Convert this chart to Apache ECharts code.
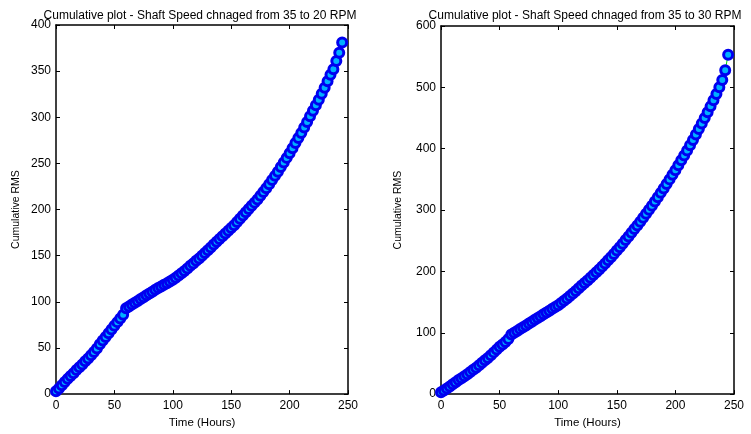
<!DOCTYPE html>
<html>
<head>
<meta charset="utf-8">
<script src="https://cdn.jsdelivr.net/npm/echarts@6/dist/echarts.min.js"></script>
<style>html,body{margin:0;padding:0;background:#fff;}#c{width:751px;height:434px;}</style>
</head>
<body>
<div id="c"></div>
<script>
// Time axis (hours) shared by both plots
const hours = [0,2.5,5,7.5,10,12.5,15,17.5,20,22.5,25,27.5,30,32.5,35,37.5,40,42.5,45,47.5,50,52.5,55,57.5,60,62.5,65,67.5,70,72.5,75,77.5,80,82.5,85,87.5,90,92.5,95,97.5,100,102.5,105,107.5,110,112.5,115,117.5,120,122.5,125,127.5,130,132.5,135,137.5,140,142.5,145,147.5,150,152.5,155,157.5,160,162.5,165,167.5,170,172.5,175,177.5,180,182.5,185,187.5,190,192.5,195,197.5,200,202.5,205,207.5,210,212.5,215,217.5,220,222.5,225,227.5,230,232.5,235,237.5,240,242.5,245];

// Left: 35 -> 20 RPM
const rms20 = [3,6,9.5,13,16.5,19.5,22.5,26,29,32,35.5,38.5,42,45.5,49.5,54,58,62,66,70,74,78,82,86,93,95,97,99,101,103,105,107,109,111,113,115,116.5,118.5,120,122,124,126,128.5,131,133.5,136,139,141.5,144.5,147,150,153,156,159,162,165,168,171,174,177,180,183,186.5,190,193.5,197,200.5,204,207.5,211,215,219,223,227.5,232,236.5,241,246,251,256,261,266.5,272,277.5,283,289,295,301,307,313,319,325.5,332,339,346,352,361,370,381];

// Right: 35 -> 30 RPM
const rms30 = [3,6,9,12.5,16,19.5,23,26,29,32.5,36,39.5,43,47,51,55,59,63.5,68,72.5,77,81,85,90,97,100,103,106,109,112,115,118,121,124,127,130,133,136,139,142,145,148.5,152,156,160,164,168,172.5,177,181,185,189.5,194,198.5,203,208,213,218,223,228.5,234,239.5,245,251,257,263,269,275,281,287.5,294,300.5,307,314,321,328,335,342.5,350,357.5,365,373,381,389,397,405.5,414,423,432,441,450,459.5,469,479,489,500,512,528,553];

const titles = ['Cumulative plot - Shaft Speed chnaged from 35 to 20 RPM','Cumulative plot - Shaft Speed chnaged from 35 to 30 RPM'];
const xTicks = {min:0,max:250,interval:50};
const yLeft = {min:0,max:400,interval:50};
const yRight = {min:0,max:600,interval:100};

const FONT = 'Liberation Sans, Arial, sans-serif';
const chart = echarts.init(document.getElementById('c'));

function mkX(grid, pos, labels){
  return {type:'value', gridIndex:grid, position:pos, min:xTicks.min, max:xTicks.max, interval:xTicks.interval,
    name: labels ? 'Time (Hours)' : '', nameLocation:'middle', nameGap:19,
    nameTextStyle:{color:'#000', fontSize:11.5, fontFamily:FONT},
    axisLine:{show:true, onZero:false, lineStyle:{color:'#000', width:1.5}},
    axisTick:{show:true, inside:true, length:4, lineStyle:{color:'#000'}},
    axisLabel:{show:labels, color:'#000', fontSize:12, fontFamily:FONT, margin:6},
    splitLine:{show:false}};
}
function mkY(grid, pos, labels, sc, gap){
  return {type:'value', gridIndex:grid, position:pos, min:sc.min, max:sc.max, interval:sc.interval,
    name: labels ? 'Cumulative RMS' : '', nameLocation:'middle', nameGap:gap, nameRotate:90,
    nameTextStyle:{color:'#000', fontSize:10.5, fontFamily:FONT},
    axisLine:{show:true, onZero:false, lineStyle:{color:'#000', width:1.5}},
    axisTick:{show:true, inside:true, length:4, lineStyle:{color:'#000'}},
    axisLabel:{show:labels, color:'#000', fontSize:12, fontFamily:FONT, margin:5},
    splitLine:{show:false}};
}
function mkSeries(vals, xi, yi){
  return {type:'line', xAxisIndex:xi, yAxisIndex:yi, clip:false,
    data: hours.map((h,i)=>[h, vals[i]]),
    symbol:'circle', symbolSize:9, showSymbol:true,
    lineStyle:{color:'#00e000', width:1},
    itemStyle:{color:'#00b0ff', borderColor:'#0000f0', borderWidth:3},
    emphasis:{disabled:true}, animation:false};
}

chart.setOption({
  animation:false,
  backgroundColor:'#fff',
  title:[
    {text:titles[0], left:195, top:5, textAlign:'center', textStyle:{fontSize:12, fontWeight:'normal', color:'#000', fontFamily:FONT}},
    {text:titles[1], left:580, top:5, textAlign:'center', textStyle:{fontSize:12, fontWeight:'normal', color:'#000', fontFamily:FONT}}
  ],
  grid:[
    {left:56, right:403, top:25, bottom:33},
    {left:441, right:17, top:26, bottom:33}
  ],
  xAxis:[mkX(0,'bottom',true), mkX(0,'top',false), mkX(1,'bottom',true), mkX(1,'top',false)],
  yAxis:[mkY(0,'left',true,yLeft,34), mkY(0,'right',false,yLeft,0), mkY(1,'left',true,yRight,37), mkY(1,'right',false,yRight,0)],
  series:[mkSeries(rms20,0,0), mkSeries(rms30,2,2)]
});
</script>
</body>
</html>
